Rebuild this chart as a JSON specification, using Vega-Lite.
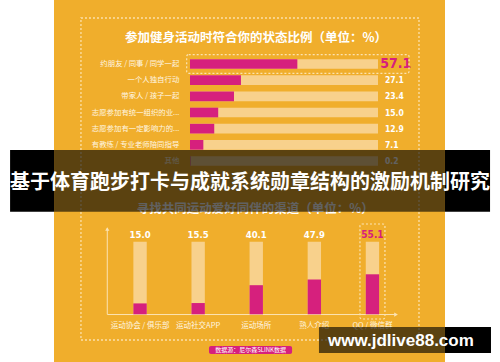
{
  "$schema": "https://vega.github.io/schema/vega-lite/v6.json",
  "width": 391,
  "height": 362,
  "autosize": {"type": "none"},
  "padding": {"left": 54, "right": 55, "top": 0, "bottom": 0},
  "background": "#FFFFFF",
  "config": {
    "view": {"fill": "#F0AE2C", "stroke": null},
    "axis": {"disable": true},
    "text": {"font": "Noto Sans CJK SC"}
  },
  "resolve": {"scale": {"x": "independent", "y": "independent"}},
  "layer": [
    {
      "data": {"values": [{}]},
      "layer": [
        {
          "mark": {"type": "rect", "fillOpacity": 0, "stroke": "#FBE0AA", "strokeDash": [2, 2], "strokeWidth": 1.3},
          "encoding": {
            "x": {"datum": -58.0, "scale": {"domain": [0, 100], "range": [136, 324], "nice": false, "zero": false}},
            "x2": {"datum": 121.8},
            "y": {"datum": 408.1, "scale": {"domain": [0, 100], "range": [314.3, 241.7], "nice": false, "zero": false}},
            "y2": {"datum": -35.4}
          }
        },
        {
          "mark": {"type": "text", "align": "center", "baseline": "middle", "fontSize": 12.5, "fontWeight": "bold", "color": "#FFFFFF"},
          "encoding": {
            "x": {"datum": 35.1, "scale": {"domain": [0, 100], "range": [136, 324], "nice": false, "zero": false}},
            "y": {"datum": 380.6, "scale": {"domain": [0, 100], "range": [314.3, 241.7], "nice": false, "zero": false}},
            "text": {"value": "参加健身活动时符合你的状态比例（单位：%）"}
          }
        },
        {
          "mark": {"type": "text", "align": "center", "baseline": "middle", "fontSize": 12.5, "fontWeight": "bold", "color": "#FFFFFF"},
          "encoding": {
            "x": {"datum": 34.7, "scale": {"domain": [0, 100], "range": [136, 324], "nice": false, "zero": false}},
            "y": {"datum": 145.7, "scale": {"domain": [0, 100], "range": [314.3, 241.7], "nice": false, "zero": false}},
            "text": {"value": "寻找共同运动爱好同伴的渠道（单位：%）"}
          }
        },
        {
          "mark": {"type": "rect", "color": "#D6207D", "cornerRadius": 2},
          "encoding": {
            "x": {"datum": 10.1, "scale": {"domain": [0, 100], "range": [136, 324], "nice": false, "zero": false}},
            "x2": {"datum": 54.3},
            "y": {"datum": -43.7, "scale": {"domain": [0, 100], "range": [314.3, 241.7], "nice": false, "zero": false}},
            "y2": {"datum": -54.7}
          }
        },
        {
          "mark": {"type": "text", "align": "center", "baseline": "middle", "fontSize": 6, "color": "#FFFFFF"},
          "encoding": {
            "x": {"datum": 32.2, "scale": {"domain": [0, 100], "range": [136, 324], "nice": false, "zero": false}},
            "y": {"datum": -49.2, "scale": {"domain": [0, 100], "range": [314.3, 241.7], "nice": false, "zero": false}},
            "text": {"value": "数据源：尼尔森SLINK数据"}
          }
        },
        {
          "mark": {"type": "rule", "color": "#FBE3B3", "strokeWidth": 1},
          "encoding": {
            "x": {"datum": -44.0, "scale": {"domain": [0, 100], "range": [136, 324], "nice": false, "zero": false}},
            "y": {"datum": 0, "scale": {"domain": [0, 100], "range": [314.3, 241.7], "nice": false, "zero": false}},
            "y2": {"datum": 118.5}
          }
        },
        {
          "mark": {"type": "rule", "color": "#FBE3B3", "strokeWidth": 1},
          "encoding": {
            "x": {"datum": -44.0, "scale": {"domain": [0, 100], "range": [136, 324], "nice": false, "zero": false}},
            "x2": {"datum": 109.0},
            "y": {"datum": -0.3, "scale": {"domain": [0, 100], "range": [314.3, 241.7], "nice": false, "zero": false}}
          }
        },
        {
          "mark": {"type": "point", "shape": "triangle-up", "filled": true, "size": 18, "color": "#FBE3B3", "opacity": 1},
          "encoding": {
            "x": {"datum": -44.0, "scale": {"domain": [0, 100], "range": [136, 324], "nice": false, "zero": false}},
            "y": {"datum": 117.5, "scale": {"domain": [0, 100], "range": [314.3, 241.7], "nice": false, "zero": false}}
          }
        },
        {
          "mark": {"type": "point", "shape": "triangle-right", "filled": true, "size": 18, "color": "#FBE3B3", "opacity": 1},
          "encoding": {
            "x": {"datum": 109.6, "scale": {"domain": [0, 100], "range": [136, 324], "nice": false, "zero": false}},
            "y": {"datum": -0.3, "scale": {"domain": [0, 100], "range": [314.3, 241.7], "nice": false, "zero": false}}
          }
        }
      ]
    },
    {
      "data": {"values": [
        {"cat": "约朋友 / 同事 / 同学一起", "pct": 57.1},
        {"cat": "一个人独自行动", "pct": 27.1},
        {"cat": "带家人 / 孩子一起", "pct": 23.4},
        {"cat": "志愿参加有统一组织的业...", "pct": 15.0},
        {"cat": "志愿参加有一定影响力的...", "pct": 12.9},
        {"cat": "有教练 / 专业老师陪同指导", "pct": 7.1},
        {"cat": "其他", "pct": 0.2}
      ]},
      "encoding": {
        "y": {"field": "cat", "type": "nominal", "axis": null, "scale": {"type": "band", "domain": ["约朋友 / 同事 / 同学一起", "一个人独自行动", "带家人 / 孩子一起", "志愿参加有统一组织的业...", "志愿参加有一定影响力的...", "有教练 / 专业老师陪同指导", "其他"], "range": [55.9, 169.1], "paddingInner": 0, "paddingOuter": 0}}
      },
      "layer": [
        {
          "mark": {"type": "bar", "height": {"band": 0.6}, "color": "#F8D18C"},
          "encoding": {
            "x": {"datum": 0, "scale": {"domain": [0, 100], "range": [136, 324], "nice": false, "zero": false}},
            "x2": {"datum": 100}
          }
        },
        {
          "mark": {"type": "bar", "height": {"band": 0.6}, "color": "#D6207D"},
          "encoding": {
            "x": {"field": "pct", "type": "quantitative", "scale": {"domain": [0, 100], "range": [136, 324], "nice": false, "zero": false}},
            "x2": {"datum": 0}
          }
        },
        {
          "mark": {"type": "text", "align": "right", "baseline": "middle", "fontSize": 7.4, "color": "#FFF6E2"},
          "encoding": {
            "x": {"datum": -5.7, "scale": {"domain": [0, 100], "range": [136, 324], "nice": false, "zero": false}},
            "text": {"field": "cat"}
          }
        },
        {
          "transform": [{"filter": "datum.pct < 50"}],
          "mark": {"type": "text", "align": "left", "baseline": "middle", "fontSize": 8.5, "fontWeight": "bold", "font": "DejaVu Sans Condensed, Liberation Sans Narrow, Liberation Sans", "color": "#FFFFFF"},
          "encoding": {
            "x": {"datum": 103.7, "scale": {"domain": [0, 100], "range": [136, 324], "nice": false, "zero": false}},
            "text": {"field": "pct", "type": "quantitative", "format": ".1f"}
          }
        },
        {
          "transform": [{"filter": "datum.pct >= 50"}],
          "mark": {"type": "text", "align": "left", "baseline": "middle", "fontSize": 14, "fontWeight": "bold", "font": "DejaVu Sans Condensed, Liberation Sans Narrow, Liberation Sans", "color": "#D6207D"},
          "encoding": {
            "x": {"datum": 101.2, "scale": {"domain": [0, 100], "range": [136, 324], "nice": false, "zero": false}},
            "text": {"field": "pct", "type": "quantitative", "format": ".1f"}
          }
        },
        {
          "transform": [{"filter": "datum.pct >= 50"}],
          "mark": {"type": "bar", "height": {"band": 1.17}, "fillOpacity": 0, "stroke": "#FBE3B3", "strokeDash": [2, 2], "strokeWidth": 1.2, "cornerRadius": 2},
          "encoding": {
            "x": {"datum": -1.76, "scale": {"domain": [0, 100], "range": [136, 324], "nice": false, "zero": false}},
            "x2": {"datum": 116.5}
          }
        }
      ]
    },
    {
      "data": {"values": [
        {"ch": "运动协会 / 俱乐部", "pct": 15.0},
        {"ch": "运动社交APP", "pct": 15.5},
        {"ch": "运动场所", "pct": 40.1},
        {"ch": "熟人介绍", "pct": 47.9},
        {"ch": "QQ / 微信群", "pct": 55.1}
      ]},
      "encoding": {
        "x": {"field": "ch", "type": "nominal", "axis": null, "scale": {"type": "band", "domain": ["运动协会 / 俱乐部", "运动社交APP", "运动场所", "熟人介绍", "QQ / 微信群"], "range": [57, 347.5], "paddingInner": 0, "paddingOuter": 0}}
      },
      "layer": [
        {
          "mark": {"type": "bar", "width": {"band": 0.23}, "color": "#F8D18C"},
          "encoding": {
            "y": {"datum": 100, "scale": {"domain": [0, 100], "range": [314.3, 241.7], "nice": false, "zero": false}},
            "y2": {"datum": 0}
          }
        },
        {
          "mark": {"type": "bar", "width": {"band": 0.23}, "color": "#D6207D"},
          "encoding": {
            "y": {"field": "pct", "type": "quantitative", "scale": {"domain": [0, 100], "range": [314.3, 241.7], "nice": false, "zero": false}},
            "y2": {"datum": 0}
          }
        },
        {
          "transform": [{"filter": "datum.pct < 50"}],
          "mark": {"type": "text", "align": "center", "baseline": "alphabetic", "fontSize": 9.5, "fontWeight": "bold", "font": "DejaVu Sans Condensed, Liberation Sans Narrow, Liberation Sans", "color": "#FFFFFF"},
          "encoding": {
            "y": {"datum": 105.6, "scale": {"domain": [0, 100], "range": [314.3, 241.7], "nice": false, "zero": false}},
            "text": {"field": "pct", "type": "quantitative", "format": ".1f"}
          }
        },
        {
          "transform": [{"filter": "datum.pct >= 50"}],
          "mark": {"type": "text", "align": "center", "baseline": "alphabetic", "fontSize": 10, "fontWeight": "bold", "font": "DejaVu Sans Condensed, Liberation Sans Narrow, Liberation Sans", "color": "#D6207D"},
          "encoding": {
            "y": {"datum": 105.6, "scale": {"domain": [0, 100], "range": [314.3, 241.7], "nice": false, "zero": false}},
            "text": {"field": "pct", "type": "quantitative", "format": ".1f"}
          }
        },
        {
          "mark": {"type": "text", "align": "center", "baseline": "middle", "fontSize": 7.5, "color": "#FFF6E2"},
          "encoding": {
            "y": {"datum": -15.6, "scale": {"domain": [0, 100], "range": [314.3, 241.7], "nice": false, "zero": false}},
            "text": {"field": "ch"}
          }
        },
        {
          "transform": [{"filter": "datum.pct >= 50"}],
          "mark": {"type": "bar", "width": {"band": 0.43}, "fillOpacity": 0, "stroke": "#FBE3B3", "strokeDash": [2, 2], "strokeWidth": 1.2, "cornerRadius": 2},
          "encoding": {
            "y": {"datum": 124.4, "scale": {"domain": [0, 100], "range": [314.3, 241.7], "nice": false, "zero": false}},
            "y2": {"datum": -6.5}
          }
        }
      ]
    },
    {
      "data": {"values": [{}]},
      "layer": [
        {
          "mark": {"type": "rect", "color": "#000000", "opacity": 0.62},
          "encoding": {
            "x": {"datum": -72.3, "scale": {"domain": [0, 100], "range": [136, 324], "nice": false, "zero": false}},
            "x2": {"datum": 135.6},
            "y": {"datum": 226.3, "scale": {"domain": [0, 100], "range": [314.3, 241.7], "nice": false, "zero": false}},
            "y2": {"datum": 141.3}
          }
        },
        {
          "mark": {"type": "rect", "color": "#000000", "opacity": 1},
          "encoding": {
            "x": {"datum": -95.7, "scale": {"domain": [0, 100], "range": [136, 324], "nice": false, "zero": false}},
            "x2": {"datum": -72.3},
            "y": {"datum": 226.3, "scale": {"domain": [0, 100], "range": [314.3, 241.7], "nice": false, "zero": false}},
            "y2": {"datum": 141.3}
          }
        },
        {
          "mark": {"type": "rect", "color": "#000000", "opacity": 1},
          "encoding": {
            "x": {"datum": 135.6, "scale": {"domain": [0, 100], "range": [136, 324], "nice": false, "zero": false}},
            "x2": {"datum": 159.6},
            "y": {"datum": 226.3, "scale": {"domain": [0, 100], "range": [314.3, 241.7], "nice": false, "zero": false}},
            "y2": {"datum": 141.3}
          }
        },
        {
          "mark": {"type": "text", "align": "center", "baseline": "middle", "fontSize": 20, "fontWeight": "bold", "color": "#FFFFFF"},
          "encoding": {
            "x": {"datum": 31.9, "scale": {"domain": [0, 100], "range": [136, 324], "nice": false, "zero": false}},
            "y": {"datum": 180.9, "scale": {"domain": [0, 100], "range": [314.3, 241.7], "nice": false, "zero": false}},
            "text": {"value": "基于体育跑步打卡与成就系统勋章结构的激励机制研究"}
          }
        },
        {
          "mark": {"type": "rect", "color": "#000000", "opacity": 0.62},
          "encoding": {
            "x": {"datum": 68.6, "scale": {"domain": [0, 100], "range": [136, 324], "nice": false, "zero": false}},
            "x2": {"datum": 135.6},
            "y": {"datum": -17.5, "scale": {"domain": [0, 100], "range": [314.3, 241.7], "nice": false, "zero": false}},
            "y2": {"datum": -53.2}
          }
        },
        {
          "mark": {"type": "rect", "color": "#000000", "opacity": 1},
          "encoding": {
            "x": {"datum": 135.6, "scale": {"domain": [0, 100], "range": [136, 324], "nice": false, "zero": false}},
            "x2": {"datum": 160.1},
            "y": {"datum": -17.5, "scale": {"domain": [0, 100], "range": [314.3, 241.7], "nice": false, "zero": false}},
            "y2": {"datum": -53.2}
          }
        },
        {
          "mark": {"type": "text", "align": "left", "baseline": "middle", "fontSize": 17, "fontWeight": "bold", "font": "Liberation Sans", "color": "#FFFFFF"},
          "encoding": {
            "x": {"datum": 73.4, "scale": {"domain": [0, 100], "range": [136, 324], "nice": false, "zero": false}},
            "y": {"datum": -37.2, "scale": {"domain": [0, 100], "range": [314.3, 241.7], "nice": false, "zero": false}},
            "text": {"value": "www.jdlive88.com"}
          }
        }
      ]
    }
  ]
}
